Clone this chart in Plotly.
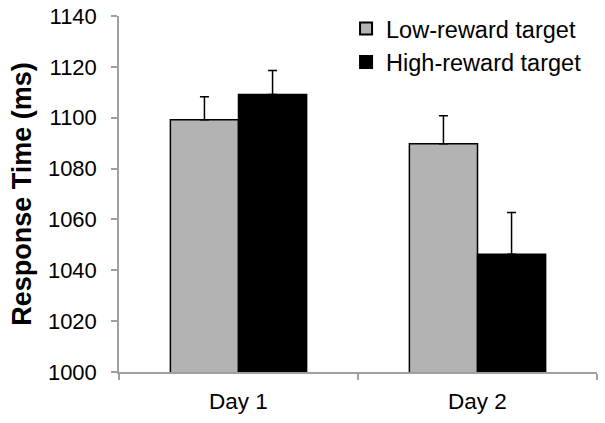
import plotly.graph_objects as go

days = ["Day 1", "Day 2"]
low_reward = [1099.2, 1089.8]
high_reward = [1109.1, 1046.3]
low_err = [9.0, 11.0]
high_err = [9.5, 16.4]
y_ticks = [1000, 1020, 1040, 1060, 1080, 1100, 1120, 1140]

FONT = "Liberation Sans, Arial, sans-serif"

fig = go.Figure()
fig.add_trace(go.Bar(
    x=days, y=low_reward, name="Low-reward target",
    marker=dict(color="#b3b3b3", line=dict(color="black", width=1.5)),
    error_y=dict(type="data", array=low_err, arrayminus=[0, 0], symmetric=False,
                 color="black", thickness=1.5, width=4.5),
))
fig.add_trace(go.Bar(
    x=days, y=high_reward, name="High-reward target",
    marker=dict(color="black", line=dict(color="black", width=1.5)),
    error_y=dict(type="data", array=high_err, arrayminus=[0, 0], symmetric=False,
                 color="black", thickness=1.5, width=4.5),
))

fig.update_layout(
    width=605, height=423,
    margin=dict(l=119, r=8, t=16, b=51, autoexpand=False),
    paper_bgcolor="white", plot_bgcolor="white",
    barmode="group", bargap=0.43, bargroupgap=0,
    font=dict(family=FONT, color="black", size=22),
    showlegend=True,
    legend=dict(x=0.475, y=1.026, xanchor="left", yanchor="top",
                bgcolor="rgba(0,0,0,0)", font=dict(size=23.5, family=FONT),
                itemsizing="constant"),
    xaxis=dict(type="category", range=[-0.5, 1.5], showline=True, linecolor="#a0a0a0",
               linewidth=1.5, ticks="outside", tickson="boundaries", ticklen=6,
               tickcolor="#a0a0a0", tickwidth=1.5, showgrid=False, automargin=False,
               tickfont=dict(size=22.5), ticklabelstandoff=8),
    yaxis=dict(range=[1000, 1140], tickvals=y_ticks, showline=True, linecolor="#a0a0a0",
               linewidth=1.5, ticks="outside", ticklen=6, tickcolor="#a0a0a0",
               tickwidth=1.5, showgrid=False, zeroline=False, automargin=False,
               tickfont=dict(size=22), ticklabelstandoff=10, ticklabeloverflow="allow",
               title=dict(text="<b>Response Time (ms)</b>", font=dict(size=27, family=FONT),
                          standoff=8)),
)

fig.write_html("out.html", config={"displayModeBar": False},
               post_script="document.body.style.margin='0';")
